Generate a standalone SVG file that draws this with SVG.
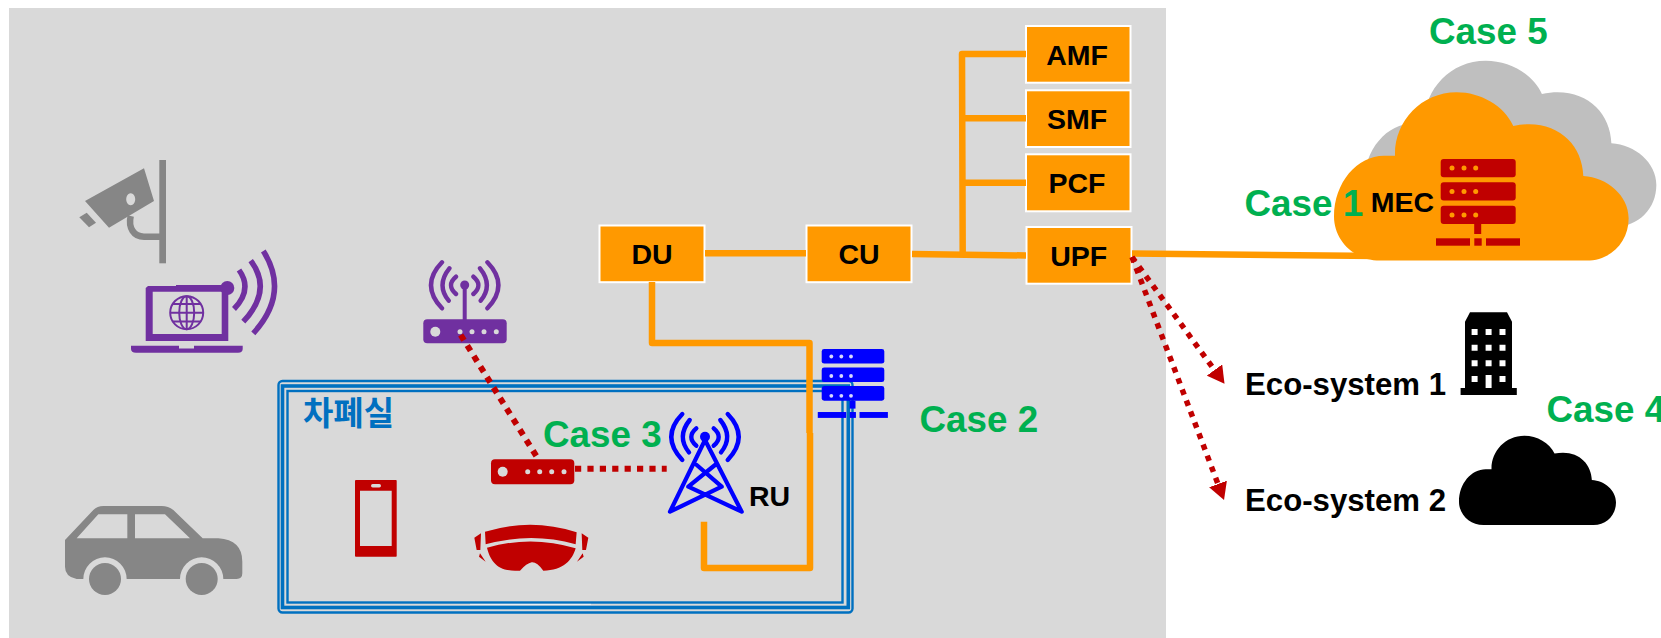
<svg xmlns="http://www.w3.org/2000/svg" width="1661" height="638" viewBox="0 0 1661 638">
<style>
text{font-family:"Liberation Sans",Arial,sans-serif;font-weight:700}
.lbl{font-size:28.5px;fill:#000;text-anchor:middle}
.eco{font-size:31.2px;fill:#000}
.case{font-size:36.8px;fill:#00b050}
.box{fill:#ff9900;stroke:#fff;stroke-width:2}
.wire{fill:none;stroke:#ff9900;stroke-width:6.5;stroke-linejoin:round}
.dot{fill:none;stroke:#c00000;stroke-width:6;stroke-dasharray:6.2 6.2}
.dota{fill:none;stroke:#c00000;stroke-width:5.5;stroke-dasharray:5.6 6.2;marker-end:url(#head)}
.wifi{fill:none;stroke-width:4.4;stroke-linecap:round}
.bd{fill:none;stroke:#0070c0}
</style>
<defs>
<path id="cloud" d="M138,505 C60,505 0,445 0,373 C0,270 70,190 150,190 L183,190 C180,90 260,0 368,0 C440,0 510,40 538,101 C660,75 745,150 748,251 C820,255 884,310 884,378 C884,450 830,505 758,505 Z"/>
<g id="waves"><path d="M8.7,-8.3 Q18.7,0 8.7,9 M15.3,-16.7 Q28.7,0 16,15.7 M22.7,-22.7 Q44.7,0 22.7,23.3 M-8.7,-8.3 Q-18.7,0 -8.7,9 M-15.3,-16.7 Q-28.7,0 -16,15.7 M-22.7,-22.7 Q-44.7,0 -22.7,23.3"/></g>
<g id="rack">
<rect x="0" y="0" width="75" height="18.3" rx="3"/>
<rect x="0" y="23.3" width="75" height="18.3" rx="3"/>
<rect x="0" y="46.7" width="75" height="18.3" rx="3"/>
<rect x="33.5" y="65" width="7" height="10"/>
<rect x="-4.7" y="79.3" width="34" height="7.4"/>
<rect x="33.6" y="79.3" width="7.4" height="7.4"/>
<rect x="45.3" y="79.3" width="34" height="7.4"/>
</g>
<marker id="head" markerUnits="userSpaceOnUse" markerWidth="17" markerHeight="19" viewBox="0 0 17 19" refX="0" refY="9.5" orient="auto"><path d="M0,0 L17,9.5 L0,19 Z" fill="#c00000"/></marker>
</defs>

<rect id="background" x="9" y="8" width="1157" height="630" fill="#d9d9d9"/>

<g id="cloud-gray"><use href="#cloud" fill="#bfbfbf" transform="translate(1364,60.7) scale(.3307,.3287)"/></g>
<g id="cloud-mec"><use href="#cloud" fill="#ff9900" transform="translate(1334,92.3) scale(.3333)"/></g>
<g id="server-mec" fill="#c00000">
<use href="#rack" transform="translate(1440.7,159)"/>
<g fill="#ff9900"><circle cx="1452" cy="168" r="2.5"/><circle cx="1464" cy="168" r="2.5"/><circle cx="1475.7" cy="168" r="2.5"/><circle cx="1452" cy="191.5" r="2.5"/><circle cx="1464" cy="191.5" r="2.5"/><circle cx="1475.7" cy="191.5" r="2.5"/><circle cx="1452" cy="215" r="2.5"/><circle cx="1464" cy="215" r="2.5"/><circle cx="1475.7" cy="215" r="2.5"/></g>
</g>
<text class="case" x="1429" y="44">Case 5</text>
<text class="case" x="1244.5" y="216">Case 1</text>
<text class="lbl" x="1402.5" y="212.3">MEC</text>

<g id="camera" fill="#868686">
<rect x="159.3" y="160" width="6.7" height="103.3"/>
<path d="M85,201 L144,168.3 L154,201 L109,227.7 Z M130.7,193.3 a4.5,6 0 1 0 .01,0 Z" fill-rule="evenodd"/>
<path d="M79.3,217.3 L86.7,212.7 L96,222.7 L89,227.3 Z"/>
<path d="M130.7,216 C128,228 134,236.7 144,236.7 L160,236.7" fill="none" stroke="#868686" stroke-width="6.5"/>
</g>

<g id="laptop" fill="#7030a0">
<path d="M148,286 L176,286 L176,285 L228.3,285 L228.3,341 L145.7,341 L145.7,288 Z M152.7,291.7 L152.7,334 L221.7,334 L221.7,291.7 Z" fill-rule="evenodd"/>
<circle cx="227.3" cy="288" r="7"/>
<path d="M131,345.7 L179,345.7 L179,348.5 L194,348.5 L194,345.7 L242.7,345.7 L242.7,349 Q242.7,352.7 238,352.7 L136,352.7 Q131,352.7 131,349 Z"/>
<g fill="none" stroke="#7030a0" stroke-width="2"><circle cx="186.7" cy="312.7" r="16.5"/><ellipse cx="186.7" cy="312.7" rx="7.5" ry="16.5"/><path d="M186.7,296.2 V329.2 M170.2,312.7 H203.2 M173,304 H200.5 M173,321.5 H200.5"/></g>
<path d="M239,270 Q253,289.3 234,309 M250.7,260.7 Q273,290 243.3,321.7 M263.3,251 Q290,293 253.3,333.3" fill="none" stroke="#7030a0" stroke-width="5.5"/>
</g>

<g id="router-purple" fill="#7030a0">
<rect x="423.3" y="319.3" width="83.4" height="24" rx="4"/>
<rect x="462.7" y="285" width="4" height="35"/>
<circle cx="464.7" cy="285" r="4.5"/>
<use href="#waves" x="464.7" y="285" class="wifi" stroke="#7030a0"/>
<g fill="#d9d9d9"><circle cx="435.3" cy="331.7" r="5"/><circle cx="460" cy="331.7" r="2.5"/><circle cx="472" cy="331.7" r="2.5"/><circle cx="484" cy="331.7" r="2.5"/><circle cx="496.3" cy="331.7" r="2.5"/></g>
</g>

<g id="car">
<path transform="translate(40,370) scale(.3333)" fill="#868686" fill-rule="evenodd" d="M75,510 L160,420 Q172,408 190,408 L365,408 Q385,408 400,420 L488,505 L535,505 Q607,510 607,575 L607,610 Q607,627 590,627 L550,627 A65,65 0 0 0 420,627 L260,627 A65,65 0 0 0 130,627 L110,627 Q75,620 75,590 Z M110,505 L175,433 L262,433 L262,505 Z M285,433 L375,433 L450,505 L285,505 Z"/>
<circle cx="105" cy="579" r="16" fill="#868686"/><circle cx="201.7" cy="579" r="16" fill="#868686"/>
</g>

<g id="room">
<rect class="bd" x="278.5" y="381" width="574" height="231.5" rx="4" stroke-width="2.4"/>
<rect class="bd" x="282.5" y="386" width="565.8" height="221.5" stroke-width="3.6"/>
<rect class="bd" x="287.5" y="391" width="555" height="211.5" stroke-width="2.4"/>
<line x1="470" y1="604.4" x2="591" y2="604.4" stroke="#eef2f6" stroke-width="1"/>
<text x="303" y="425" font-size="33" fill="#0070c0" style="font-family:'Liberation Sans','Noto Sans CJK KR',sans-serif">차폐실</text>
</g>

<g id="phone">
<path fill="#c00000" fill-rule="evenodd" d="M356,480 H396 Q396.7,480 396.7,481 V556 Q396.7,556.7 396,556.7 H356 Q355,556.7 355,556 V481 Q355,480 356,480 Z M360,490.7 V546 H391.7 V490.7 Z"/>
<rect x="371" y="484" width="10" height="3.4" rx="1.7" fill="#d9d9d9"/>
</g>

<g id="router-red" fill="#c00000">
<rect x="491" y="459.3" width="83.3" height="25" rx="4"/>
<g fill="#d9d9d9"><circle cx="502.7" cy="471.7" r="5"/><circle cx="527.7" cy="471.7" r="2.5"/><circle cx="539.7" cy="471.7" r="2.5"/><circle cx="551.7" cy="471.7" r="2.5"/><circle cx="564" cy="471.7" r="2.5"/></g>
</g>

<g id="goggles">
<path transform="translate(465,515) scale(.3333)" fill="#c00000" d="M60,50 Q200,8 335,52 L332,88 Q200,50 62,88 Z M66,98 Q200,60 332,100 C322,135 295,167 235,167 Q215,140 200,142 Q185,145 165,167 L150,167 C95,167 75,135 66,98 Z M48,55 L28,68 L35,105 L46,105 Z M45,115 L62,140 L42,125 Z M350,55 L370,68 L363,105 L352,105 Z M353,115 L336,140 L356,125 Z"/>
</g>

<g id="tower-ru">
<use href="#waves" x="705" y="436.7" class="wifi" stroke="#0000ff"/>
<circle cx="705" cy="436.7" r="5" fill="#0000ff"/>
<path fill="none" stroke="#0000ff" stroke-width="4.2" stroke-linejoin="round" stroke-linecap="round" d="M705,440 L670,511.7 L721.7,486.7 L696.7,465 M705,440 L741.7,511.7 L688.3,486.7 L715,465"/>
<text class="lbl" x="769.5" y="505.7">RU</text>
</g>

<g id="server-blue" fill="#0000ff">
<use href="#rack" transform="translate(821.7,349) scale(.8347,.7947)"/>
<g fill="#d9d9ff"><circle cx="831.3" cy="356.5" r="1.9"/><circle cx="841.3" cy="356.5" r="1.9"/><circle cx="851" cy="356.5" r="1.9"/><circle cx="831.3" cy="376" r="1.9"/><circle cx="841.3" cy="376" r="1.9"/><circle cx="851" cy="376" r="1.9"/><circle cx="831.3" cy="395.8" r="1.9"/><circle cx="841.3" cy="395.8" r="1.9"/><circle cx="851" cy="395.8" r="1.9"/></g>
</g>

<g id="node-amf"><rect class="box" x="1026" y="26" width="104.5" height="56.7"/><text class="lbl" x="1077" y="65">AMF</text></g>
<g id="node-smf"><rect class="box" x="1026" y="90.3" width="104.5" height="56.7"/><text class="lbl" x="1077" y="129">SMF</text></g>
<g id="node-pcf"><rect class="box" x="1026" y="154.3" width="104.5" height="57"/><text class="lbl" x="1077" y="193">PCF</text></g>
<g id="node-upf"><rect class="box" x="1026.5" y="227" width="105" height="56.7"/><text class="lbl" x="1078.7" y="266">UPF</text></g>
<g id="node-du"><rect class="box" x="599.5" y="225.5" width="105" height="56.7"/><text class="lbl" x="652" y="264">DU</text></g>
<g id="node-cu"><rect class="box" x="806.5" y="225.5" width="105" height="56.7"/><text class="lbl" x="859" y="264">CU</text></g>

<g id="building" fill="#000">
<path fill-rule="evenodd" d="M1470,312.3 H1507 L1512,321.7 V388 H1516.8 V395 H1460.6 V388 H1465 V321.7 Z M1471.6,329 v6 h6 v-6 Z M1485.6,329 v6 h6 v-6 Z M1499.5,329 v6 h6 v-6 Z M1471.6,344.7 v6 h6 v-6 Z M1485.6,344.7 v6 h6 v-6 Z M1499.5,344.7 v6 h6 v-6 Z M1471.6,360.3 v6 h6 v-6 Z M1485.6,360.3 v6 h6 v-6 Z M1499.5,360.3 v6 h6 v-6 Z M1471.6,376 v6 h6 v-6 Z M1485.6,375 v13 h6 v-13 Z M1499.5,376 v6 h6 v-6 Z"/>
</g>
<g id="cloud-black"><use href="#cloud" fill="#000" transform="translate(1459,435.7) scale(.1776,.1768)"/></g>
<text class="eco" x="1245" y="395">Eco-system 1</text>
<text class="eco" x="1245" y="510.7">Eco-system 2</text>

<text class="case" x="543" y="446.7">Case 3</text>
<text class="case" x="919.5" y="431.7">Case 2</text>
<text class="case" x="1546.5" y="421.7">Case 4</text>

<g id="connectors">
<path class="wire" d="M705,253.3 H806"/>
<path class="wire" d="M912,254 L1026,255.5"/>
<path class="wire" d="M1026,54 H962 L962.7,254"/>
<path class="wire" d="M962,118.3 H1026 M962.5,182.7 H1026"/>
<path class="wire" d="M1132,253.5 L1380,256"/>
<path class="wire" d="M652,282 V343 H809.5 V433"/>
<path class="wire" d="M810,433 V568 H704 V521.7"/>
<path class="dot" d="M460.7,335 L536.7,456.7"/>
<path class="dot" d="M575,468.7 H666.7"/>
<path class="dota" d="M1132,257 L1214.5,370"/>
<path class="dota" d="M1132,257 L1218,484"/>
</g>
</svg>
